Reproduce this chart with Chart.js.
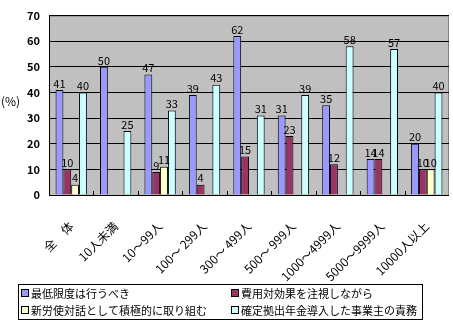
<!DOCTYPE html>
<html>
<head>
<meta charset="utf-8">
<script src="https://cdn.jsdelivr.net/npm/chart.js@4"></script>
<style>
  html, body { margin: 0; padding: 0; background: #fff; }
  #wrap { width: 453px; height: 322px; }
</style>
</head>
<body>
<div id="wrap"><canvas id="chart" width="453" height="322"></canvas></div>
<script>
// data (null = no bar)
const categories = ['全　体', '10人未満', '10～99人', '100～ 299人', '300～ 499人', '500～ 999人', '1000～4999人', '5000～9999人', '10000人以上'];
const seriesNames = ['最低限度は行うべき', '費用対効果を注視しながら', '新労使対話として積極的に取り組む', '確定拠出年金導入した事業主の責務'];
const minimum = [41, 50, 47, 39, 62, 31, 35, 14, 20];
const costEffect = [10, null, 9, 4, 15, 23, 12, 14, 10];
const dialogue = [4, null, 11, null, null, null, null, null, 10];
const duty = [40, 25, 33, 43, 31, 39, 58, 57, 40];
const yTicks = [0, 10, 20, 30, 40, 50, 60, 70];

const colors = ['#9999FF', '#993366', '#FFFFCC', '#CCFFFF'];
const FONT = '"Noto Sans CJK JP", "DejaVu Sans", sans-serif';

// gray plot background + border, short ticks between groups
const plotArea = {
    id: 'plotArea',
    beforeDraw(chart) {
        const { ctx, chartArea: a } = chart;
        ctx.save();
        ctx.fillStyle = '#C0C0C0';
        ctx.fillRect(a.left, a.top, a.right - a.left, a.bottom - a.top);
        ctx.strokeStyle = '#808080';
        ctx.lineWidth = 1;
        ctx.strokeRect(a.left + 0.5, a.top + 0.5, a.right - a.left - 1, a.bottom - a.top);
        ctx.restore();
    },
    afterDatasetsDraw(chart) {
        const { ctx, chartArea: a } = chart;
        const n = categories.length;
        const w = (a.right - a.left) / n;
        ctx.save();
        ctx.strokeStyle = '#000';
        ctx.lineWidth = 1;
        ctx.beginPath();
        for (let i = 1; i < n; i++) {
            const x = Math.round(a.left + i * w) + 0.5;
            ctx.moveTo(x, a.bottom);
            ctx.lineTo(x, a.bottom - 4);
        }
        ctx.moveTo(a.left, a.bottom + 0.5);
        ctx.lineTo(a.right, a.bottom + 0.5);
        ctx.stroke();
        ctx.restore();
    }
};

// value labels above bars
const valueLabels = {
    id: 'valueLabels',
    afterDatasetsDraw(chart) {
        const ctx = chart.ctx;
        ctx.save();
        ctx.font = '11px ' + FONT;
        ctx.fillStyle = '#000';
        ctx.textAlign = 'center';
        ctx.textBaseline = 'bottom';
        chart.data.datasets.forEach((ds, i) => {
            chart.getDatasetMeta(i).data.forEach((bar, j) => {
                const v = ds.data[j];
                if (v == null) return;
                ctx.fillText(String(v), bar.x, bar.y - 1);
            });
        });
        ctx.restore();
    }
};

// "(%)" and boxed two-column legend
const extras = {
    id: 'extras',
    afterDraw(chart) {
        const ctx = chart.ctx;
        ctx.save();
        ctx.fillStyle = '#000';
        ctx.font = '12px ' + FONT;
        ctx.textAlign = 'left';
        ctx.textBaseline = 'middle';
        ctx.fillText('(%)', 1, 101);

        ctx.strokeStyle = '#000';
        ctx.lineWidth = 1;
        ctx.strokeRect(18.5, 284.5, 404, 35);
        ctx.font = '11px ' + FONT;
        const cols = [21, 231];
        const rows = [293, 310];
        seriesNames.forEach((name, i) => {
            const x = cols[i % 2];
            const y = rows[Math.floor(i / 2)];
            ctx.fillStyle = colors[i];
            ctx.fillRect(x, y - 4, 8, 8);
            ctx.strokeStyle = '#000';
            ctx.strokeRect(x + 0.5, y - 3.5, 7, 7);
            ctx.fillStyle = '#000';
            ctx.fillText(name, x + 10, y + 1);
        });
        ctx.restore();
    }
};

const seriesData = [minimum, costEffect, dialogue, duty];

new Chart(document.getElementById('chart'), {
    type: 'bar',
    data: {
        labels: categories,
        datasets: seriesData.map((d, i) => ({
            label: seriesNames[i],
            data: d,
            backgroundColor: colors[i],
            borderColor: '#000',
            borderWidth: 1,
            barPercentage: 1,
            categoryPercentage: 0.705
        }))
    },
    options: {
        responsive: false,
        animation: false,
        layout: { padding: { left: 0, top: 4, right: 1, bottom: 0 } },
        plugins: {
            legend: { display: false },
            tooltip: { enabled: false }
        },
        scales: {
            x: {
                grid: { display: false },
                border: { display: false },
                ticks: {
                    color: '#000',
                    font: { family: FONT, size: 12 },
                    minRotation: 45,
                    maxRotation: 45,
                    padding: 16
                },
                afterFit(scale) { scale.height = 127; }
            },
            y: {
                min: 0,
                max: 70,
                afterBuildTicks(scale) { scale.ticks = yTicks.map(v => ({ value: v })); },
                grid: { color: '#000', lineWidth: 1, drawTicks: false },
                border: { color: '#000' },
                ticks: {
                    color: '#000',
                    font: { family: FONT, size: 11, weight: 'bold' },
                    padding: 9
                },
                afterFit(scale) { scale.width = 49; }
            }
        }
    },
    plugins: [plotArea, valueLabels, extras]
});
</script>
</body>
</html>
